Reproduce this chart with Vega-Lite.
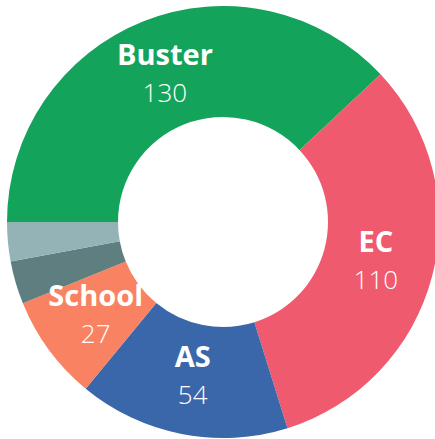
{
  "$schema": "https://vega.github.io/schema/vega-lite/v6.json",
  "width": 424,
  "height": 434,
  "padding": {"left": 11, "top": 5, "right": 0, "bottom": 0},
  "autosize": {"type": "none"},
  "background": "white",
  "view": {"stroke": null},
  "data": {
    "values": [
      {"segment": "Buster", "label": "Buster", "value": 130, "rank": 1},
      {"segment": "EC", "label": "EC", "value": 110, "rank": 2},
      {"segment": "AS", "label": "AS", "value": 54, "rank": 3},
      {"segment": "School", "label": "School", "value": 27, "rank": 4},
      {"segment": "Other A", "label": "", "value": 11, "rank": 5},
      {"segment": "Other B", "label": "", "value": 10, "rank": 6}
    ]
  },
  "encoding": {
    "theta": {"field": "value", "type": "quantitative", "stack": true, "scale": {"range": [-1.5708, 4.7124]}},
    "order": {"field": "rank", "type": "quantitative"}
  },
  "layer": [
    {
      "mark": {"type": "arc", "outerRadius": 216, "innerRadius": 105},
      "encoding": {
        "color": {
          "field": "segment",
          "type": "nominal",
          "legend": null,
          "scale": {
            "domain": ["Buster", "EC", "AS", "School", "Other A", "Other B"],
            "range": ["#14A35B", "#EF5A6E", "#3A67AA", "#F88262", "#5E7E7F", "#94B3B6"]
          }
        }
      }
    },
    {
      "mark": {"type": "text", "radius": 158, "dy": -10, "baseline": "alphabetic", "align": "center", "font": "Open Sans", "fontWeight": "bold", "fontSize": 29, "fill": "white"},
      "encoding": {"text": {"field": "label", "type": "nominal"}}
    },
    {
      "mark": {"type": "text", "radius": 158, "dy": 27, "baseline": "alphabetic", "align": "center", "font": "Open Sans", "fontWeight": 300, "fontSize": 26, "fill": "white"},
      "encoding": {
        "text": {"condition": {"test": "datum.label != ''", "field": "value", "type": "quantitative"}, "value": ""}
      }
    }
  ]
}
